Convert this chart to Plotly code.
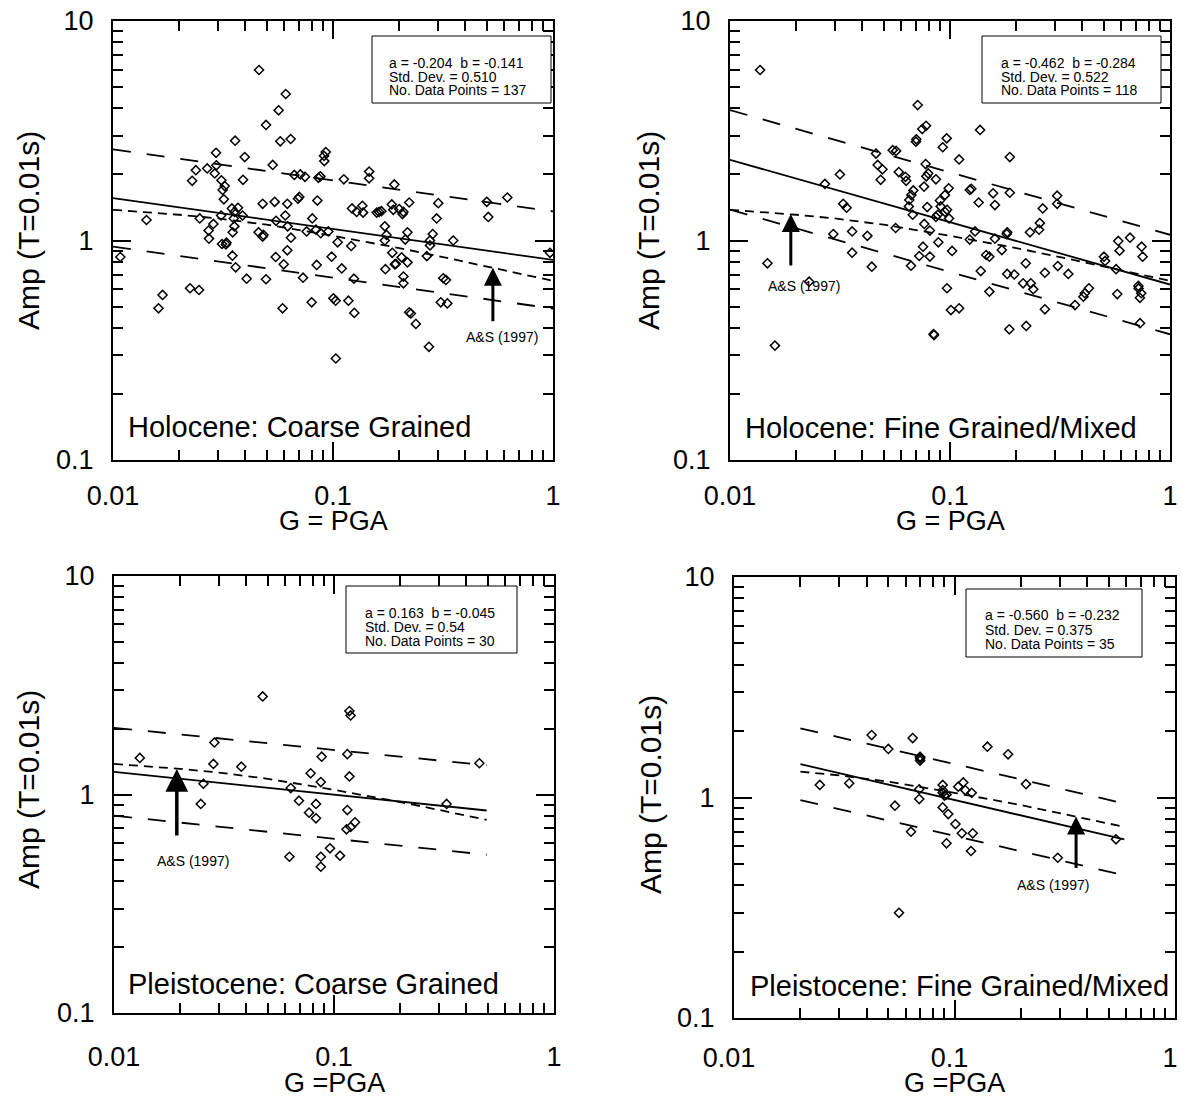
import numpy as np
import plotly.graph_objects as go

W, H = 1181, 1097
FONT = "Liberation Sans, Arial, Helvetica, sans-serif"

# ---------------- Holocene: Coarse Grained ----------------
HC_PGA = [
    0.0461, 0.0610, 0.0566, 0.0496, 0.0359, 0.0576, 0.0642, 0.0294, 0.0397, 0.0910,
    0.0927, 0.0913, 0.0295, 0.0532, 0.0268, 0.0238, 0.0290, 0.0229, 0.0390, 0.0311,
    0.0322, 0.0315, 0.0667, 0.0710, 0.0746, 0.0858, 0.0876, 0.0319, 0.0703, 0.0693,
    0.0849, 0.0479, 0.0543, 0.0620, 0.0347, 0.0370, 0.0357, 0.0142, 0.0248, 0.0310,
    0.0388, 0.0354, 0.0607, 0.0551, 0.0805, 0.0286, 0.0356, 0.0622, 0.0272, 0.0350,
    0.0459, 0.0479, 0.0483, 0.0759, 0.0837, 0.0879, 0.0952, 0.0273, 0.0644, 0.0313,
    0.0328, 0.0326, 0.0620, 0.1050, 0.0349, 0.0549, 0.0986, 0.0108,
    0.0361, 0.0597, 0.0843, 0.1096, 0.0405, 0.0496, 0.0731, 0.1245, 0.173, 0.186,
    0.191, 0.193, 0.205, 0.218, 0.209, 0.209, 0.267, 0.317, 0.326, 0.969,
    0.0161, 0.0168, 0.0224, 0.0246, 0.0590, 0.080, 0.1004, 0.1028, 0.1175, 0.125,
    0.103, 0.222, 0.226, 0.238, 0.273, 0.309, 0.331,
    0.146, 0.146, 0.112, 0.190, 0.222, 0.200, 0.209, 0.207, 0.185, 0.188,
    0.122, 0.136, 0.128, 0.137, 0.158, 0.162, 0.166, 0.301, 0.296, 0.500,
    0.620, 0.508, 0.172, 0.175, 0.172, 0.218, 0.213, 0.284, 0.276, 0.352,
    0.121, 0.276,
]
HC_AMP = [
    5.98, 4.65, 3.92, 3.36, 2.85, 2.83, 2.90, 2.51, 2.40, 2.43,
    2.53, 2.30, 2.20, 2.21, 2.13, 2.09, 2.02, 1.87, 1.89, 1.88,
    1.77, 1.70, 1.99, 2.00, 1.95, 1.93, 1.96, 1.54, 1.58, 1.55,
    1.52, 1.47, 1.50, 1.47, 1.40, 1.41, 1.35, 1.24, 1.26, 1.30,
    1.30, 1.26, 1.30, 1.23, 1.26, 1.19, 1.16, 1.16, 1.11, 1.09,
    1.09, 1.04, 1.06, 1.10, 1.12, 1.08, 1.10, 1.02, 1.03, 0.964,
    0.977, 0.96, 0.902, 0.981, 0.853, 0.841, 0.844, 0.841,
    0.755, 0.779, 0.774, 0.746, 0.670, 0.666, 0.677, 0.670, 0.740, 0.879,
    0.779, 0.782, 0.838, 0.795, 0.685, 0.638, 0.849, 0.673, 0.661, 0.879,
    0.491, 0.565, 0.606, 0.595, 0.491, 0.523, 0.545, 0.532, 0.532, 0.468,
    0.290, 0.471, 0.465, 0.417, 0.328, 0.523, 0.517,
    2.06, 1.92, 1.90, 1.80, 1.49, 1.39, 1.35, 1.32, 1.46, 1.38,
    1.40, 1.44, 1.35, 1.34, 1.34, 1.35, 1.36, 1.48, 1.26, 1.50,
    1.57, 1.28, 1.16, 1.06, 1.00, 1.09, 1.01, 1.07, 1.00, 1.00,
    0.944, 0.95,
]
HC_FIT = {"a": -0.204, "b": -0.141, "sd": 0.510, "sd_dec": 3, "n": 137}

# ---------------- Holocene: Fine Grained/Mixed ----------------
HF_PGA = [
    0.0137, 0.0713, 0.0748, 0.0778, 0.0700, 0.0703, 0.0966, 0.0927, 0.110, 0.0549,
    0.0569, 0.0461, 0.0469, 0.0493, 0.0484, 0.0316, 0.0270, 0.0775, 0.0585, 0.0627,
    0.0632, 0.0796, 0.0780, 0.0863, 0.0762, 0.0986, 0.0681, 0.0667, 0.0948, 0.0653,
    0.0900, 0.0650, 0.0788, 0.0907, 0.0970, 0.0950, 0.0677, 0.0863, 0.0880, 0.0990,
    0.0327, 0.0339, 0.0764, 0.0810, 0.0566, 0.0295, 0.0359, 0.0421, 0.0885, 0.0754,
    0.1022, 0.0359, 0.0725, 0.0810,
    0.137, 0.187, 0.123, 0.125, 0.157, 0.187, 0.135, 0.160, 0.307, 0.307,
    0.264, 0.256, 0.254, 0.231, 0.182, 0.181, 0.130, 0.123, 0.160, 0.172,
    0.146, 0.582, 0.658, 0.590, 0.743, 0.501,
    0.0148, 0.0160, 0.0229, 0.0441, 0.0665, 0.0969, 0.101, 0.110, 0.0846, 0.0842,
    0.138, 0.151, 0.151, 0.182, 0.196, 0.221, 0.215, 0.233, 0.239, 0.186,
    0.222, 0.270, 0.270, 0.309, 0.345, 0.370, 0.404, 0.410, 0.428, 0.507,
    0.569, 0.576, 0.718, 0.720, 0.730, 0.740, 0.751, 0.731,
]
HF_AMP = [
    5.98, 4.14, 3.22, 3.33, 2.82, 2.89, 2.92, 2.66, 2.34, 2.58,
    2.56, 2.49, 2.21, 2.11, 1.89, 2.00, 1.81, 2.23, 2.05, 1.95,
    1.87, 2.02, 1.96, 1.90, 1.76, 1.73, 1.69, 1.61, 1.61, 1.53,
    1.52, 1.43, 1.42, 1.43, 1.38, 1.35, 1.31, 1.28, 1.31, 1.26,
    1.47, 1.41, 1.19, 1.11, 1.14, 1.07, 1.10, 1.05, 0.981, 0.937,
    0.896, 0.880, 0.850, 0.845,
    3.19, 2.40, 1.70, 1.72, 1.64, 1.65, 1.49, 1.45, 1.60, 1.47,
    1.40, 1.20, 1.12, 1.09, 1.09, 1.07, 1.10, 1.01, 1.02, 0.905,
    0.859, 0.995, 1.03, 0.899, 0.937, 0.844,
    0.787, 0.332, 0.649, 0.760, 0.768, 0.606, 0.482, 0.491, 0.371, 0.375,
    0.726, 0.844, 0.585, 0.704, 0.700, 0.787, 0.638, 0.638, 0.600, 0.394,
    0.408, 0.713, 0.486, 0.765, 0.704, 0.508, 0.555, 0.575, 0.606, 0.807,
    0.740, 0.570, 0.621, 0.605, 0.548, 0.575, 0.844, 0.420,
]
HF_FIT = {"a": -0.462, "b": -0.284, "sd": 0.522, "sd_dec": 3, "n": 118}

# ---------------- Pleistocene: Coarse Grained ----------------
PC_PGA = [
    0.0131, 0.0286, 0.0283, 0.0379, 0.0255, 0.0248, 0.0474, 0.1175, 0.119, 0.115,
    0.0879, 0.0783, 0.1175, 0.0871, 0.0636, 0.0693, 0.0828, 0.0770, 0.0828, 0.115,
    0.114, 0.119, 0.1246, 0.458, 0.325, 0.0627, 0.0871, 0.0959, 0.1065, 0.0871,
]
PC_AMP = [
    1.47, 1.73, 1.38, 1.34, 1.12, 0.905, 2.81, 2.41, 2.30, 1.53,
    1.49, 1.25, 1.21, 1.14, 1.07, 0.937, 0.905, 0.826, 0.778, 0.849,
    0.693, 0.71, 0.746, 1.39, 0.905, 0.519, 0.519, 0.567, 0.525, 0.467,
]
PC_FIT = {"a": 0.163, "b": -0.045, "sd": 0.54, "sd_dec": 2, "n": 30}
# fitted median and +/- one standard deviation bands drawn for this group
PC_LINE_PGA = [0.01, 0.494]
PC_LINE_MED = [1.27, 0.845]
PC_LINE_HI = [2.02, 1.36]
PC_LINE_LO = [0.80, 0.53]

# ---------------- Pleistocene: Fine Grained/Mixed ----------------
PF_PGA = [
    0.0245, 0.0333, 0.0421, 0.0501, 0.0646, 0.0698, 0.0698, 0.0698, 0.0698, 0.0692,
    0.0692, 0.0537, 0.0635, 0.0884, 0.0884, 0.0884, 0.090, 0.092, 0.0884, 0.0937,
    0.1010, 0.108, 0.092, 0.1188, 0.121, 0.104, 0.1096, 0.112, 0.1197, 0.141,
    0.175, 0.211, 0.294, 0.540, 0.056,
]
PF_AMP = [
    1.14, 1.16, 1.92, 1.66, 1.86, 1.53, 1.50, 1.47, 1.52, 1.09,
    0.984, 0.918, 0.700, 1.14, 1.08, 1.05, 1.02, 1.03, 0.902, 0.841,
    0.758, 0.688, 0.620, 0.572, 0.688, 1.12, 1.17, 1.08, 1.05, 1.70,
    1.57, 1.15, 0.533, 0.646, 0.30,
]
PF_FIT = {"a": -0.560, "b": -0.232, "sd": 0.375, "sd_dec": 3, "n": 35}

# Abrahamson & Silva (1997) soil amplification at T = 0.01 s
AS97_PGA = [0.01, 0.02, 0.03, 0.05, 0.1, 0.2, 0.3, 0.494, 0.589, 1.0]
AS97_AMP = [1.38, 1.31, 1.26, 1.18, 1.05, 0.924, 0.850, 0.765, 0.736, 0.655]

TITLES = ["Holocene: Coarse Grained", "Holocene: Fine Grained/Mixed",
          "Pleistocene: Coarse Grained", "Pleistocene: Fine Grained/Mixed"]
X_TITLES = ["G = PGA", "G = PGA", "G =PGA", "G =PGA"]
Y_TITLE = "Amp (T=0.01s)"


def band_from_fit(fit, ends):
    x = np.array(ends, dtype=float)
    med = np.exp(fit["a"] + fit["b"] * np.log(x))
    k = np.exp(fit["sd"])
    return x, med, med * k, med / k


panels = [
    dict(pga=HC_PGA, amp=HC_AMP, fit=HC_FIT, lines=band_from_fit(HC_FIT, [0.01, 1.0]),
         as_range=(0.01, 1.0),
         dom=(113, 553, 21, 460), box=(372, 551, 36, 103), tx=387, ty=(63.3, 76.7, 90.0),
         label=(126, 427), arrow=(0.533, 0.752), alen=55, asize=1.2, awidth=3,
         as_shift=(9, -69), xtitle_y=521, ytitle=(28, 231), xstand=11, xshift=0),
    dict(pga=HF_PGA, amp=HF_AMP, fit=HF_FIT, lines=band_from_fit(HF_FIT, [0.01, 1.0]),
         as_range=(0.01, 1.0),
         dom=(730, 1170, 21, 460), box=(982, 1161, 36, 103), tx=999, ty=(63.3, 76.7, 90.0),
         label=(743, 428), arrow=(0.0189, 1.32), alen=53, asize=1.2, awidth=3,
         as_shift=(13, -72), xtitle_y=521, ytitle=(648, 231), xstand=11, xshift=0),
    dict(pga=PC_PGA, amp=PC_AMP, fit=PC_FIT,
         lines=(np.array(PC_LINE_PGA), np.array(PC_LINE_MED), np.array(PC_LINE_HI), np.array(PC_LINE_LO)),
         as_range=(0.01, 0.494),
         dom=(114, 554, 576, 1013), box=(346, 517, 586, 653), tx=363, ty=(612.7, 627.3, 641.0),
         label=(126, 984), arrow=(0.0193, 1.31), alen=68, asize=1.3, awidth=3.5,
         as_shift=(16, -92), xtitle_y=1083, ytitle=(28, 790), xstand=19, xshift=0),
    dict(pga=PF_PGA, amp=PF_AMP, fit=PF_FIT, lines=band_from_fit(PF_FIT, [0.02, 0.589]),
         as_range=(0.02, 0.589),
         dom=(734, 1175, 577, 1018), box=(966, 1142, 589, 657), tx=983, ty=(615.0, 630.0, 644.0),
         label=(748, 986), arrow=(0.356, 0.820), alen=53, asize=1.2, awidth=3,
         as_shift=(-23, -68), xtitle_y=1083, ytitle=(650, 795), xstand=15, xshift=-5),
]


def paper_x(px):
    return px / W


def paper_y(py):
    return 1 - py / H


fig = go.Figure()
annotations = []
shapes = []

for i, p in enumerate(panels):
    n = "" if i == 0 else str(i + 1)
    xa, ya = "x" + n, "y" + n
    x0, x1, y0, y1 = p["dom"]

    # regression line with +/- one standard deviation
    lx, med, hi, lo = p["lines"]
    for vals, dash in ((hi, "18px,16px"), (lo, "18px,16px"), (med, "solid")):
        fig.add_trace(go.Scatter(x=lx, y=vals, mode="lines", xaxis=xa, yaxis=ya,
                                 line=dict(color="black", width=1.8, dash=dash),
                                 showlegend=False, hoverinfo="skip"))

    # A&S (1997) reference curve over the same PGA span
    lo_r, hi_r = p["as_range"]
    keep = [lo_r - 1e-9 <= v <= hi_r + 1e-9 for v in AS97_PGA]
    as_x = [v for v, k in zip(AS97_PGA, keep) if k]
    as_y = [a for a, k in zip(AS97_AMP, keep) if k]
    fig.add_trace(go.Scatter(x=as_x, y=as_y, mode="lines", xaxis=xa, yaxis=ya,
                             line=dict(color="black", width=1.8, dash="9px,6px"),
                             showlegend=False, hoverinfo="skip"))

    fig.add_trace(go.Scatter(x=p["pga"], y=p["amp"], mode="markers", xaxis=xa, yaxis=ya,
                             marker=dict(symbol="diamond-open", size=7, color="black",
                                         line=dict(width=1.5)),
                             showlegend=False))

    common = dict(type="log", showline=True, linecolor="black", linewidth=2,
                  mirror="ticks", ticks="inside", ticklen=18, tickwidth=2,
                  tickcolor="black", dtick=1, exponentformat="none",
                  minor=dict(ticks="inside", ticklen=10, tickwidth=2, tickcolor="black",
                             dtick="D1", showgrid=False),
                  showgrid=False, zeroline=False, automargin=False, fixedrange=True,
                  ticklabeloverflow="allow",
                  tickfont=dict(family=FONT, size=27, color="black"))
    fig.layout["xaxis" + n] = dict(common, range=[-2, 0], anchor=ya,
                                   domain=[paper_x(x0), paper_x(x1)],
                                   ticklabelstandoff=p["xstand"], ticklabelshift=p["xshift"])
    fig.layout["yaxis" + n] = dict(common, range=[-1, 1], anchor=xa,
                                   domain=[paper_y(y1), paper_y(y0)],
                                   ticklabelstandoff=12)

    # axis titles
    annotations.append(dict(xref="paper", yref="paper", x=paper_x((x0 + x1) / 2),
                            y=paper_y(p["xtitle_y"]), xanchor="center", yanchor="middle",
                            showarrow=False, text=X_TITLES[i],
                            font=dict(family=FONT, size=27, color="black")))
    annotations.append(dict(xref="paper", yref="paper", x=paper_x(p["ytitle"][0]),
                            y=paper_y(p["ytitle"][1]), xanchor="center", yanchor="middle",
                            showarrow=False, text=Y_TITLE, textangle=-90,
                            font=dict(family=FONT, size=30, color="black")))

    # statistics box
    bx0, bx1, by0, by1 = p["box"]
    shapes.append(dict(type="rect", xref="paper", yref="paper",
                       x0=paper_x(bx0), x1=paper_x(bx1), y0=paper_y(by1), y1=paper_y(by0),
                       line=dict(color="black", width=1), fillcolor="white", layer="above"))
    f = p["fit"]
    lines_txt = [f"a = {f['a']:.3f}&nbsp; b = {f['b']:.3f}",
                 f"Std. Dev. = {f['sd']:.{f['sd_dec']}f}",
                 f"No. Data Points = {f['n']}"]
    for t, yy in zip(lines_txt, p["ty"]):
        annotations.append(dict(xref="paper", yref="paper", x=paper_x(p["tx"]), y=paper_y(yy),
                                xanchor="left", yanchor="middle", showarrow=False, text=t,
                                font=dict(family=FONT, size=14, color="black")))

    # panel title
    annotations.append(dict(xref="paper", yref="paper", x=paper_x(p["label"][0]),
                            y=paper_y(p["label"][1]), xanchor="left", yanchor="middle",
                            showarrow=False, text=TITLES[i],
                            font=dict(family=FONT, size=29, color="black")))

    # A&S (1997) arrow and label
    axv, ayv = p["arrow"]
    annotations.append(dict(xref=xa, yref=ya, x=np.log10(axv), y=np.log10(ayv), text="",
                            showarrow=True, ax=0, ay=p["alen"], axref="pixel", ayref="pixel",
                            arrowhead=2, arrowsize=p["asize"], arrowwidth=p["awidth"],
                            arrowcolor="black", standoff=0))
    annotations.append(dict(xref=xa, yref=ya, x=np.log10(axv), y=np.log10(ayv),
                            xshift=p["as_shift"][0], yshift=p["as_shift"][1],
                            text="A&amp;S (1997)", showarrow=False,
                            xanchor="center", yanchor="middle",
                            font=dict(family=FONT, size=14, color="black")))

fig.update_layout(width=W, height=H, margin=dict(l=0, r=0, t=0, b=0),
                  paper_bgcolor="white", plot_bgcolor="white",
                  annotations=annotations, shapes=shapes, showlegend=False,
                  font=dict(family=FONT, color="black"))

fig.write_html("out.html")
